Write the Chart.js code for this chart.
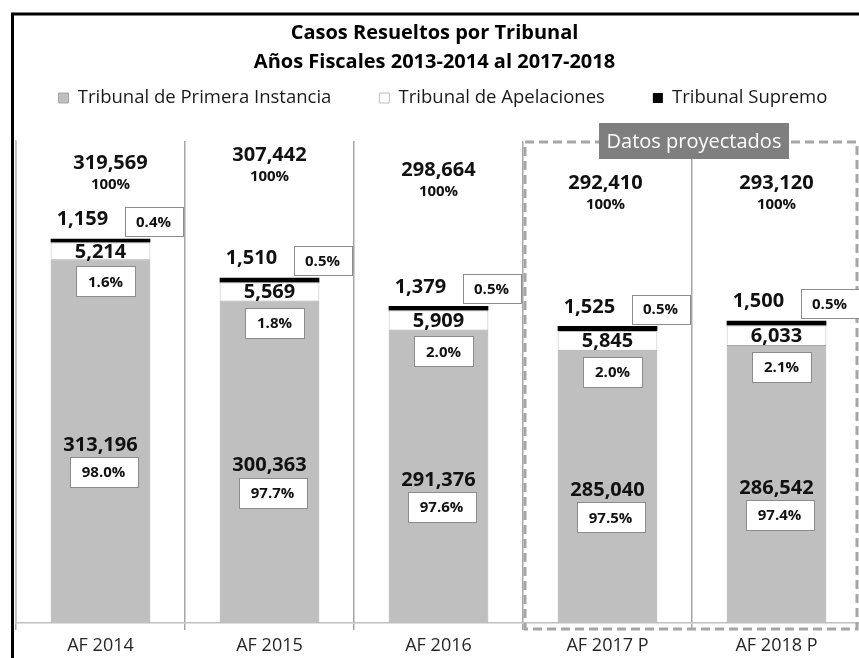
<!DOCTYPE html>
<html>
<head>
<meta charset="utf-8">
<script src="https://cdn.jsdelivr.net/npm/chart.js@4"></script>
<style>
  html, body { margin: 0; padding: 0; background: #fff; overflow: hidden; }
  canvas { display: block; }
</style>
</head>
<body>
<canvas id="myChart" width="866" height="658"></canvas>
<script>
// data
const categories = ["AF 2014", "AF 2015", "AF 2016", "AF 2017 P", "AF 2018 P"];
const primera = [313196, 300363, 291376, 285040, 286542];
const apelaciones = [5214, 5569, 5909, 5845, 6033];
const supremo = [1159, 1510, 1379, 1525, 1500];
const totals = [319569, 307442, 298664, 292410, 293120];
const pctPrimera = [98.0, 97.7, 97.6, 97.5, 97.4];
const pctApelaciones = [1.6, 1.8, 2.0, 2.0, 2.1];
const pctSupremo = [0.4, 0.5, 0.5, 0.5, 0.5];
const firstProjected = 3;

const FONT = "'Open Sans', Lato, sans-serif";
Chart.defaults.font.family = FONT;

const fmt = v => v.toLocaleString("en-US");
const pct = v => v.toFixed(1) + "%";

function boxText(ctx, cx, cy, w, h, text) {
  const l = Math.round(cx - w / 2), t = Math.round(cy - h / 2);
  ctx.fillStyle = "#fff";
  ctx.fillRect(l, t, w, h);
  ctx.strokeStyle = "#8c8c8c";
  ctx.lineWidth = 1;
  ctx.strokeRect(l + 0.5, t + 0.5, w, h);
  ctx.fillStyle = "#111";
  ctx.fillText(text, cx, cy + 1);
}

// labels, projected-data box and outer frame
const decor = {
  id: "decor",
  beforeInit(chart) {
    const lg = chart.legend;
    const fit = lg.fit;
    lg.fit = function () {
      const mw = this.maxWidth;
      this.maxWidth = 2000; // keep the three items on one row
      fit.bind(lg)();
      this.maxWidth = mw;
      this.width = mw;
      this.height = 100.25;
    };
  },
  afterLayout(chart, args, opts) {
    const lg = chart.legend;
    const pad = lg.options.labels.padding;
    lg.left = opts.legendStart - pad;
    lg.right = opts.legendStart + lg.lineWidths[0] + 1;
  },
  afterDatasetsDraw(chart, args, opts) {
    const ctx = chart.ctx;
    const area = chart.chartArea;
    const xs = chart.scales.x;
    const g = chart.getDatasetMeta(0).data;
    const w = chart.getDatasetMeta(1).data;
    const b = chart.getDatasetMeta(2).data;
    ctx.save();

    // dashed box around projected years
    const left = (xs.getPixelForValue(firstProjected - 1) + xs.getPixelForValue(firstProjected)) / 2 + 2;
    const right = area.right - 4;
    const top = area.top + 1;
    const bottom = area.bottom + 6;
    ctx.setLineDash([9, 5]);
    ctx.strokeStyle = "#a6a6a6";
    ctx.lineWidth = 3;
    ctx.strokeRect(left, top, right - left, bottom - top);
    ctx.setLineDash([]);

    const mid = (xs.getPixelForValue(firstProjected) + xs.getPixelForValue(firstProjected + 1)) / 2 + 2;
    ctx.fillStyle = "#7f7f7f";
    ctx.fillRect(mid - 95, area.top - 18, 190, 36);
    ctx.fillStyle = "#fff";
    ctx.font = "20px " + FONT;
    ctx.textAlign = "center";
    ctx.textBaseline = "middle";
    ctx.fillText("Datos proyectados", mid, area.top + 1);

    for (let i = 0; i < categories.length; i++) {
      const bar = g[i];
      const x = bar.x;
      const half = bar.width / 2;

      // primera instancia
      const base = Math.min(bar.base, area.bottom);
      const midY = (bar.y + base) / 2 + 4;
      ctx.textAlign = "center";
      ctx.fillStyle = "#111";
      ctx.font = "bold 20px " + FONT;
      ctx.fillText(fmt(primera[i]), x, midY);
      ctx.font = "bold 15px " + FONT;
      boxText(ctx, x + 3, midY + 27, 68, 30, pct(pctPrimera[i]));

      // apelaciones
      boxText(ctx, x + 5, bar.y + 22, 59, 30, pct(pctApelaciones[i]));
      ctx.font = "bold 20px " + FONT;
      ctx.fillStyle = "#111";
      ctx.fillText(fmt(apelaciones[i]), x, (w[i].y + w[i].base) / 2 + 1);

      // supremo
      const sy = b[i].y - 19;
      ctx.textAlign = "left";
      ctx.fillText(fmt(supremo[i]), x - half + 6, sy);
      ctx.textAlign = "center";
      ctx.font = "bold 15px " + FONT;
      boxText(ctx, x + 24 + 29, sy + 2, 58, 29, pct(pctSupremo[i]));

      // total
      const tx = x + opts.totalDx[i];
      const ty = area.top + opts.totalDy[i];
      ctx.fillStyle = "#111";
      ctx.font = "bold 20px " + FONT;
      ctx.fillText(fmt(totals[i]), tx, ty);
      ctx.font = "bold 15px " + FONT;
      ctx.fillText("100%", tx, ty + 22);
    }
    ctx.restore();
  },
  afterDraw(chart) {
    const ctx = chart.ctx;
    ctx.save();
    ctx.strokeStyle = "#000";
    ctx.lineWidth = 3;
    ctx.beginPath();
    ctx.moveTo(12.5, 670);
    ctx.lineTo(12.5, 14);
    ctx.lineTo(880, 14);
    ctx.stroke();
    ctx.restore();
  }
};

const ctx = document.getElementById("myChart").getContext("2d");
const myChart = new Chart(ctx, {
  type: "bar",
  data: {
    labels: categories,
    datasets: [
      {
        label: "Tribunal de Primera Instancia",
        data: primera,
        backgroundColor: "#bfbfbf",
        borderColor: "#a6a6a6",
        borderWidth: 1
      },
      {
        label: "Tribunal de Apelaciones",
        data: apelaciones,
        backgroundColor: "#ffffff",
        borderColor: "#bfbfbf",
        borderWidth: 1
      },
      {
        label: "Tribunal Supremo",
        data: supremo,
        backgroundColor: "#000000",
        borderColor: "#000000",
        borderWidth: 0
      }
    ]
  },
  options: {
    responsive: false,
    animation: false,
    devicePixelRatio: 1,
    layout: { padding: { left: 8, right: 5, top: 0, bottom: 0 } },
    datasets: { bar: { barPercentage: 0.59, categoryPercentage: 1 } },
    scales: {
      x: {
        stacked: true,
        grid: { offset: true, color: "#a6a6a6", lineWidth: 1.5, tickLength: 7 },
        border: { color: "#bfbfbf", width: 1.5 },
        ticks: { color: "#262626", font: { size: 18 }, padding: 5 },
        afterFit(scale) { scale.height = 35; }
      },
      y: {
        stacked: true,
        min: 200000,
        max: 350000,
        ticks: { display: false, stepSize: 20000 },
        grid: { display: false },
        border: { color: "#bfbfbf", width: 1.5 }
      }
    },
    plugins: {
      tooltip: { enabled: false },
      title: {
        display: true,
        text: ["Casos Resueltos por Tribunal", "Años Fiscales 2013-2014 al 2017-2018"],
        color: "#000",
        font: { size: 20, weight: "bold", lineHeight: 1.45 },
        padding: { top: 18.5, bottom: -35.75 }
      },
      legend: {
        labels: {
          color: "#1a1a1a",
          font: { size: 18.5 },
          boxWidth: 10,
          boxHeight: 10,
          padding: 48
        }
      },
      decor: {
        legendStart: 58,
        totalDy: [22, 14, 29, 42, 42],
        totalDx: [10, 0, 0, -2, 0]
      }
    }
  },
  plugins: [decor]
});
</script>
</body>
</html>
